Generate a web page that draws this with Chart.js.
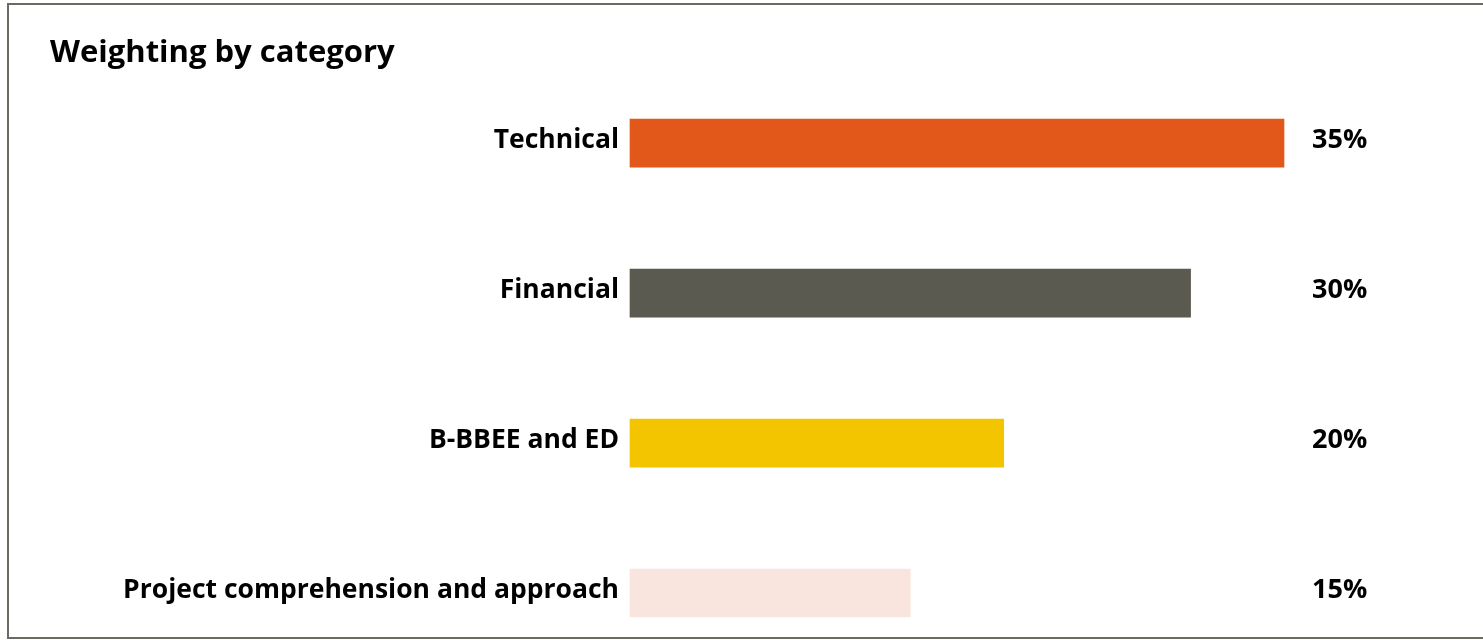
<!DOCTYPE html>
<html>
<head>
<meta charset="utf-8">
<script src="https://cdn.jsdelivr.net/npm/chart.js@4"></script>
<style>
  html, body { margin: 0; padding: 0; background: #fff; overflow: hidden; }
  #wrap { position: absolute; left: 0; top: 0; width: 1483px; height: 640px; }
  #frame {
    position: absolute; left: 7px; top: 3px; width: 1500px; height: 632px;
    border: 2px solid #6b6b64; border-right: none; pointer-events: none;
  }
</style>
</head>
<body>
<div id="wrap"><canvas id="weightChart" width="1483" height="640"></canvas></div>
<div id="frame"></div>
<script>
const categories = ['Technical', 'Financial', 'B-BBEE and ED', 'Project comprehension and approach'];
const weights = [35, 30, 20, 15];
const barColors = ['#E2581B', '#5A5A50', '#F2C500', '#F9E5DD'];

const FONT = "'Open Sans', sans-serif";

// draws the % values in one column right of the bars
const valueLabels = {
  id: 'valueLabels',
  afterDatasetsDraw(chart) {
    const ctx = chart.ctx;
    const yScale = chart.scales.y;
    ctx.save();
    ctx.font = 'bold 27px ' + FONT;
    ctx.fillStyle = '#000';
    ctx.textAlign = 'left';
    ctx.textBaseline = 'middle';
    weights.forEach((v, i) => {
      ctx.fillText(v + '%', chart.chartArea.right + 28, yScale.getPixelForValue(i) - 3);
    });
    ctx.restore();
  }
};

function initChart() {
  const ctx = document.getElementById('weightChart').getContext('2d');
  new Chart(ctx, {
    type: 'bar',
    data: {
      labels: categories,
      datasets: [{
        data: weights,
        backgroundColor: barColors,
        barThickness: 48,
        clip: false
      }]
    },
    options: {
      indexAxis: 'y',
      responsive: false,
      animation: false,
      layout: { padding: { left: 50, right: 199, top: 0, bottom: 47 } },
      plugins: {
        legend: { display: false },
        tooltip: { enabled: false },
        title: {
          display: true,
          text: 'Weighting by category',
          align: 'start',
          color: '#000',
          font: { family: FONT, size: 31, weight: 'bold', lineHeight: 1.2 },
          padding: { top: 35, bottom: 71 }
        }
      },
      scales: {
        x: { display: false, min: 0, max: 35 },
        y: {
          offset: false,
          grid: { display: false },
          border: { display: false },
          ticks: {
            color: '#000',
            padding: 3,
            labelOffset: -3,
            font: { family: FONT, size: 26.5, weight: 'bold' }
          },
          afterFit(scale) { scale.width = 580; }
        }
      }
    },
    plugins: [valueLabels]
  });
}

document.addEventListener('DOMContentLoaded', initChart);
</script>
</body>
</html>
